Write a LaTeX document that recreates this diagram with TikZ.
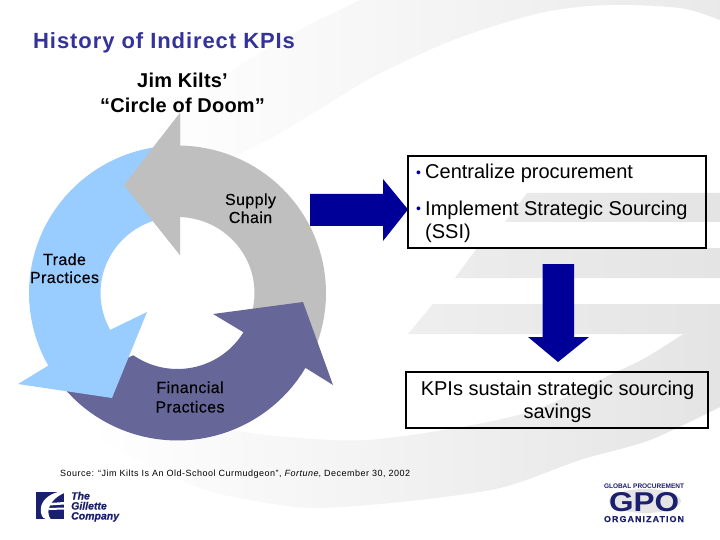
\documentclass[tikz,border=0pt]{standalone}
\usepackage{fontspec}
\setmainfont{Liberation Sans}
\definecolor{navyb}{HTML}{000099}
\definecolor{titleb}{HTML}{333399}
\definecolor{grayseg}{HTML}{BFBFBF}
\definecolor{blueseg}{HTML}{99CCFF}
\definecolor{purpseg}{HTML}{666699}
\definecolor{swoosh}{HTML}{E4E4E4}
\definecolor{logob}{HTML}{1A1F6E}
\newcommand{\fsz}[2]{\fontsize{#1}{#1}\selectfont\addfontfeature{LetterSpace=#2}}
\newcommand{\fszb}[3]{\fontsize{#1}{#1}\selectfont\addfontfeature{LetterSpace=#2,FakeBold=#3}}
\tikzset{
  x=1pt,y=-1pt,
  bluearrow/.style={fill=navyb,draw=none},
  txtbox/.style={draw=black,line width=1.6pt,fill=none,inner sep=0pt},
  titletxt/.style={anchor=base west,inner sep=0pt,text=titleb,font=\bfseries\fsz{22}{4.2}},
  headtxt/.style={anchor=base,inner sep=0pt,font=\bfseries\fsz{20}{1}},
  seglabel/.style={anchor=base,inner sep=0pt,font=\fszb{16}{2.5}{0.2}},
  boxtxt/.style={anchor=base west,inner sep=0pt,font=\fsz{20}{0}},
  boxctr/.style={anchor=base,inner sep=0pt,font=\fsz{20}{0}},
  sourcetxt/.style={anchor=base west,inner sep=0pt,font=\fsz{9}{5.5}},
  bullettxt/.style={anchor=base west,inner sep=0pt,text=navyb,font=\fontsize{14}{14}\selectfont},
  logotxt/.style={anchor=base west,inner sep=0pt,text=logob,font=\fontsize{10.5}{10.5}\selectfont\bfseries\itshape\addfontfeature{FakeBold=0.6}},
  gpotxt/.style={anchor=base,inner sep=0pt,text=logob,font=\bfseries},
}
\begin{document}
\begin{tikzpicture}
\useasboundingbox (0,0) rectangle (720,540);
\fill[white] (0,0) rectangle (720,540);
% background swooshes
\shade[left color=white,middle color=white!45!swoosh,right color=swoosh!80!white]
  plot[smooth] coordinates {(720,20) (680,8) (607,5) (540,13) (453,40) (373,77) (323,107) (273,137) (247,150) (215,170) (180,195)}
  -- plot[smooth] coordinates {(140,160) (180,105) (233,70) (290,35) (360,0)} -- (720,0) -- cycle;
\shade[left color=swoosh!75!white,right color=swoosh] (527,193) -- (720,193) -- (720,222) -- (505,222) -- cycle;
\shade[left color=swoosh!70!white,right color=swoosh] (477,248) -- (720,248) -- (720,278) -- (455,278) -- cycle;
\shade[left color=swoosh!60!white,right color=swoosh] (433,304) -- (720,304) -- (720,334) -- (408,334) -- cycle;
\shade[left color=white,right color=swoosh]
  plot[smooth] coordinates {(90,380) (160,410) (233,430) (300,438) (367,440) (456,428) (535,410) (614,373) (645,358) (685,333)}
  -- (720,330) --
  plot[smooth] coordinates {(720,407) (650,440) (580,460) (500,488) (400,502) (313,508) (250,500) (200,488) (130,455) (90,430)} -- cycle;
% circle of doom
\fill[grayseg] (180,113) -- (180,146)
  -- plot[samples=40,domain=-90:20] ({177.5+148.5*cos(\x)},{293+147.5*sin(\x)})
  -- plot[samples=40,domain=14:-90] ({177.5+77*cos(\x)},{293+76*sin(\x)})
  -- (180,255) -- (124,185) -- cycle;
\fill[purpseg] plot[samples=40,domain=140:30.5] ({177.5+148.5*cos(\x)},{293+147.5*sin(\x)})
  -- (333,385) -- (303,302) -- (213,314) -- (243,332)
  -- plot[samples=40,domain=30.5:125] ({177.5+77*cos(\x)},{293+76*sin(\x)}) -- cycle;
\fill[blueseg] plot[samples=40,domain=265:150.5] ({177.5+148.5*cos(\x)},{293+147.5*sin(\x)})
  -- (18,384) -- (112,398) -- (147,312) -- (110,330)
  -- plot[samples=40,domain=151:255] ({177.5+77*cos(\x)},{293+76*sin(\x)}) -- cycle;
\fill[grayseg] (180,113) -- (180,255) -- (124,185) -- cycle;
% block arrows
\fill[bluearrow] (310,194) -- (383,194) -- (383,179) -- (408,209.5) -- (383,241) -- (383,226) -- (310,226) -- cycle;
\fill[bluearrow] (542.5,264) -- (574,264) -- (574,337) -- (589,337) -- (558,362) -- (528,337) -- (542.5,337) -- cycle;
% boxes
\node[txtbox,minimum width=298pt,minimum height=92pt] (boxa) at (557,202) {};
\node[txtbox,minimum width=302pt,minimum height=56pt] (boxb) at (557,400) {};
% texts
\node[titletxt] (title) at (33,48.5) {History of Indirect KPIs};
\node[headtxt] (jim) at (182.5,88) {Jim Kilts’};
\node[headtxt] (doom) at (182.5,113) {“Circle of Doom”};
\node[seglabel] (supply) at (250.5,205) {Supply};
\node[seglabel] (chain) at (250.5,223) {Chain};
\node[seglabel] (trade) at (64.5,265) {Trade};
\node[seglabel] (pract) at (64.5,283) {Practices};
\node[seglabel] (fin) at (190,393) {Financial};
\node[seglabel] (fpract) at (190,412.5) {Practices};
\node[bullettxt] (bula) at (416,178) {•};
\node[bullettxt] (bulb) at (416,214) {•};
\node[boxtxt] (cent) at (425,179) {Centralize procurement};
\node[boxtxt] (impl) at (425,215) {Implement Strategic Sourcing};
\node[boxtxt] (ssi) at (425,238.5) {(SSI)};
\node[boxctr] (kpi) at (557.5,395) {KPIs sustain strategic sourcing};
\node[boxctr] (sav) at (557.5,418.5) {savings};
\node[sourcetxt] (source) at (60,476) {Source: “Jim Kilts Is An Old-School Curmudgeon”, \textit{Fortune}, December 30, 2002};
% Gillette logo
\fill[logob] (36,492) rectangle (64,519);
\fill[white] (60,491.5) .. controls (48,494) and (39,502) .. (41,513) .. controls (42,517) and (44,519.5) .. (47,519.5)
  -- (51,519.5) .. controls (46,514) and (47,501) .. (64,493) -- (64,491.5) -- cycle;
\fill[white] (50,503) -- (64,502) -- (64,504.5) -- (49,505.5) -- cycle;
\fill[white] (49,508) -- (64,507.5) -- (64,509.5) -- (49,510) -- cycle;
\node[logotxt] (the) at (71,499.5) {The};
\node[logotxt] (gil) at (71,509.5) {Gillette};
\node[logotxt] (comp) at (71,519.5) {Company};
% GPO logo
\fill[black!10] (645,501) ellipse [x radius=36,y radius=12];
\node[gpotxt] (glob) at (644,488) {\resizebox{80pt}{4.6pt}{GLOBAL PROCUREMENT}};
\node[gpotxt] (gpo) at (644,511) {\resizebox{70pt}{19pt}{GPO}};
\node[gpotxt] (org) at (644,522) {\resizebox{80pt}{6pt}{\addfontfeature{LetterSpace=12,FakeBold=0.5}ORGANIZATION}};
\end{tikzpicture}
\end{document}
